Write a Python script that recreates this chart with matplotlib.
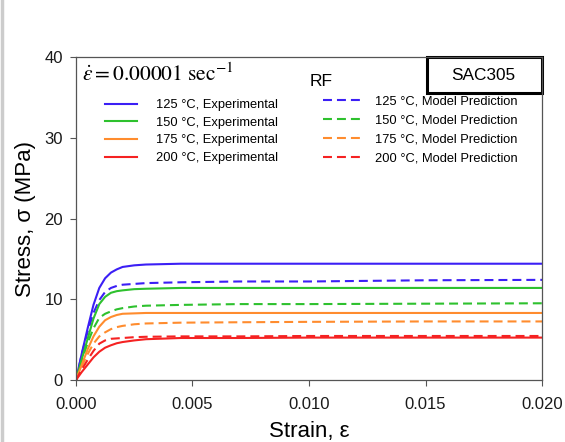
import numpy as np
import matplotlib
matplotlib.use("Agg")
import matplotlib.pyplot as plt
from matplotlib.patches import Rectangle
from matplotlib.lines import Line2D

plt.rcParams['font.family'] = ['Liberation Sans', 'DejaVu Sans']
plt.rcParams['mathtext.fontset'] = 'stix'

# strain points
strain = [0.0, 0.00025, 0.0005, 0.00075, 0.001, 0.00125, 0.0015, 0.00175,
          0.002, 0.0025, 0.003, 0.0045, 0.007, 0.01, 0.015, 0.02]

temps = ['125', '150', '175', '200']
colors = ['#3b1ff5', '#2ec12e', '#ff8c2e', '#f52222']

# experimental stress (MPa)
exp_125 = [0.0, 3.3, 6.4, 9.3, 11.4, 12.6, 13.3, 13.7, 14.0, 14.2, 14.3, 14.4, 14.4, 14.4, 14.4, 14.4]
exp_150 = [0.0, 2.6, 5.1, 7.6, 9.4, 10.3, 10.8, 11.0, 11.1, 11.25, 11.3, 11.4, 11.4, 11.4, 11.4, 11.4]
exp_175 = [0.0, 1.9, 3.8, 5.4, 6.6, 7.4, 7.8, 8.05, 8.2, 8.25, 8.3, 8.3, 8.3, 8.3, 8.3, 8.3]
exp_200 = [0.0, 1.0, 1.9, 2.8, 3.5, 4.0, 4.3, 4.55, 4.7, 4.9, 5.05, 5.2, 5.2, 5.25, 5.25, 5.25]

# model prediction stress (MPa)
mod_125 = [0.0, 3.2, 6.0, 8.3, 9.9, 10.9, 11.4, 11.65, 11.8, 11.9, 12.0, 12.1, 12.2, 12.2, 12.35, 12.4]
mod_150 = [0.0, 2.4, 4.6, 6.4, 7.7, 8.2, 8.5, 8.75, 8.9, 9.1, 9.2, 9.3, 9.4, 9.4, 9.45, 9.5]
mod_175 = [0.0, 1.7, 3.2, 4.5, 5.4, 5.9, 6.3, 6.55, 6.7, 6.9, 7.0, 7.1, 7.15, 7.2, 7.25, 7.25]
mod_200 = [0.0, 1.3, 2.5, 3.6, 4.5, 4.9, 5.1, 5.15, 5.2, 5.3, 5.35, 5.4, 5.4, 5.45, 5.45, 5.45]

exp_all = [exp_125, exp_150, exp_175, exp_200]
mod_all = [mod_125, mod_150, mod_175, mod_200]

fig = plt.figure(figsize=(5.65, 4.42), dpi=100)
ax = fig.add_axes([0.1345, 0.1403, 0.8248, 0.7307])

exp_lines = []
mod_lines = []
for t, c, e, m in zip(temps, colors, exp_all, mod_all):
    l1, = ax.plot(strain, e, color=c, lw=1.5, label=f'{t} °C, Experimental')
    l2, = ax.plot(strain, m, color=c, lw=1.5, dashes=(4.3, 2.4),
                  label=f'{t} °C, Model Prediction')
    exp_lines.append(l1)
    mod_lines.append(l2)

ax.set_xlim(0, 0.02)
ax.set_ylim(0, 40)
ax.set_xticks([0, 0.005, 0.01, 0.015, 0.02])
ax.set_xticklabels(['0.000', '0.005', '0.010', '0.015', '0.020'])
ax.set_yticks([0, 10, 20, 30, 40])
ax.tick_params(direction='out', length=4.5, width=0.8, labelsize=12, colors='#555555',
               labelcolor='#1a1a1a')
ax.tick_params(axis='x', pad=8)
ax.tick_params(axis='y', pad=5)
for s in ax.spines.values():
    s.set_color('#555555')
    s.set_linewidth(0.9)

ax.set_xlabel('Strain, ε', fontsize=16, labelpad=6)
ax.set_ylabel('Stress, σ (MPa)', fontsize=16, labelpad=6)

leg1 = ax.legend(handles=exp_lines, loc='upper left', bbox_to_anchor=(0.062, 0.870),
                 frameon=False, fontsize=9.3, borderpad=0, borderaxespad=0,
                 handlelength=2.5, handletextpad=1.47, labelspacing=0.44)
ax.add_artist(leg1)
ax.legend(handles=mod_lines, loc='upper left', bbox_to_anchor=(0.530, 0.880),
          frameon=False, fontsize=9.3, borderpad=0, borderaxespad=0,
          handlelength=2.85, handletextpad=1.16, labelspacing=0.53)

ax.text(0.013, 0.944, r'$\dot{\varepsilon} = 0.00001\ \mathrm{sec}^{-1}$',
        transform=ax.transAxes, fontsize=15.5, va='center', ha='left')
ax.text(0.502, 0.923, 'RF', transform=ax.transAxes, fontsize=12.5,
        va='center', ha='left')

ax.add_patch(Rectangle((0.753, 0.889), 0.247, 0.111, transform=ax.transAxes,
                       fill=False, edgecolor='black', lw=2.2, clip_on=False))
ax.text(0.874, 0.944, 'SAC305', transform=ax.transAxes, fontsize=12.4,
        va='center', ha='center')

# gray page edge on the left
fig.add_artist(Line2D([0.004, 0.004], [0, 1], color='#cccccc', lw=2.5))

fig.savefig('out.png', dpi=100)
